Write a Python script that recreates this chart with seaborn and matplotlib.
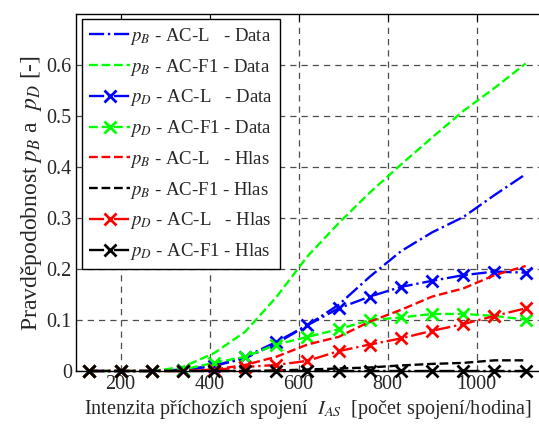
import numpy as np
import pandas as pd
import seaborn as sns
import matplotlib
matplotlib.use("Agg")
import matplotlib.pyplot as plt

# intensity of incoming connections (points measured)
x = [130, 200, 270, 340, 410, 480, 550, 620, 690, 760, 830, 900, 970, 1040, 1110]

pB_L_data = [0, 0, 0, 0.003, 0.01, 0.025, 0.054, 0.09, 0.13, 0.185, 0.235, 0.272, 0.302, 0.345, 0.386]
pB_F1_data = [0, 0, 0, 0.008, 0.035, 0.077, 0.145, 0.225, 0.29, 0.35, 0.405, 0.458, 0.51, 0.555, 0.603]
pD_L_data = [0, 0, 0, 0.002, 0.01, 0.028, 0.057, 0.09, 0.123, 0.146, 0.165, 0.177, 0.188, 0.195, 0.193]
pD_F1_data = [0, 0, 0, 0.003, 0.016, 0.028, 0.052, 0.067, 0.082, 0.1, 0.105, 0.112, 0.112, 0.108, 0.101]
pB_L_hlas = [0, 0, 0, 0, 0.003, 0.012, 0.028, 0.052, 0.067, 0.097, 0.12, 0.146, 0.162, 0.188, 0.206]
pB_F1_hlas = [0, 0, 0, 0, 0, 0, 0.001, 0.003, 0.005, 0.007, 0.011, 0.014, 0.016, 0.021, 0.021]
pD_L_hlas = [0, 0, 0, 0, 0.002, 0.008, 0.012, 0.02, 0.039, 0.052, 0.064, 0.079, 0.092, 0.108, 0.123]
pD_F1_hlas = [0, 0, 0, 0, 0, 0, 0, 0, 0, 0, 0, 0, 0, 0, 0]

labels = [r"$p_B$ - AC-L   - Data", r"$p_B$ - AC-F1 - Data",
          r"$p_D$ - AC-L   - Data", r"$p_D$ - AC-F1 - Data",
          r"$p_B$ - AC-L   - Hlas", r"$p_B$ - AC-F1 - Hlas",
          r"$p_D$ - AC-L   - Hlas", r"$p_D$ - AC-F1 - Hlas"]
series = [pB_L_data, pB_F1_data, pD_L_data, pD_F1_data,
          pB_L_hlas, pB_F1_hlas, pD_L_hlas, pD_F1_hlas]
colors = ["#0000ff", "#00ff00", "#0000ff", "#00ff00", "#ff0000", "#000000", "#ff0000", "#000000"]
styles = ["-.", "--", "-.", "--", "--", "--", "-.", "-."]
markers = ["", "", "x", "x", "", "", "x", "x"]

sns.set_style("white")
plt.rcParams["font.family"] = ["Liberation Serif", "DejaVu Serif"]
plt.rcParams["mathtext.fontset"] = "stix"
plt.rcParams["font.size"] = 14

fig = plt.figure(figsize=(5.39, 4.26), dpi=100)
ax = fig.add_axes([0.141, 0.129, 0.859, 0.838])

for vals, lab, c, ls, m in zip(series, labels, colors, styles, markers):
    sns.lineplot(x=x, y=vals, ax=ax, color=c, linestyle=ls, linewidth=1.7, label=lab,
                 marker=m, markersize=9, markeredgewidth=2, markeredgecolor=c,
                 clip_on=(m == ""))

ax.set_xlim(100, 1140)
ax.set_ylim(0, 0.7)
ax.set_xticks([200, 400, 600, 800, 1000])
ax.set_yticks([0, 0.1, 0.2, 0.3, 0.4, 0.5, 0.6])
ax.set_yticklabels(["0", "0.1", "0.2", "0.3", "0.4", "0.5", "0.6"])
ax.grid(True, linestyle=(0, (5, 4)), color="0.3", linewidth=0.9)
ax.tick_params(direction="in", top=True, right=False, length=5, color="k",
               labelsize=14.5, pad=3)
for s in ["left", "bottom", "top"]:
    ax.spines[s].set_color("k")
    ax.spines[s].set_linewidth(1.0)
ax.spines["right"].set_visible(False)

ax.set_xlabel(r"Intenzita příchozích spojení  $I_{AS}$  [počet spojení/hodina]", fontsize=14.5, labelpad=3)
ax.set_ylabel(r"Pravděpodobnost $p_B$ a  $p_D$ [-]", fontsize=17, labelpad=2)

leg = ax.legend(loc="upper left", bbox_to_anchor=(0.014, 0.985), fancybox=False,
                edgecolor="k", framealpha=1, handlelength=2.2, handletextpad=0.0,
                fontsize=13.5, borderpad=0.35, labelspacing=0.52, borderaxespad=0)
leg.get_frame().set_linewidth(1.0)
leg.set_zorder(5)

fig.savefig("out.png", dpi=100)
